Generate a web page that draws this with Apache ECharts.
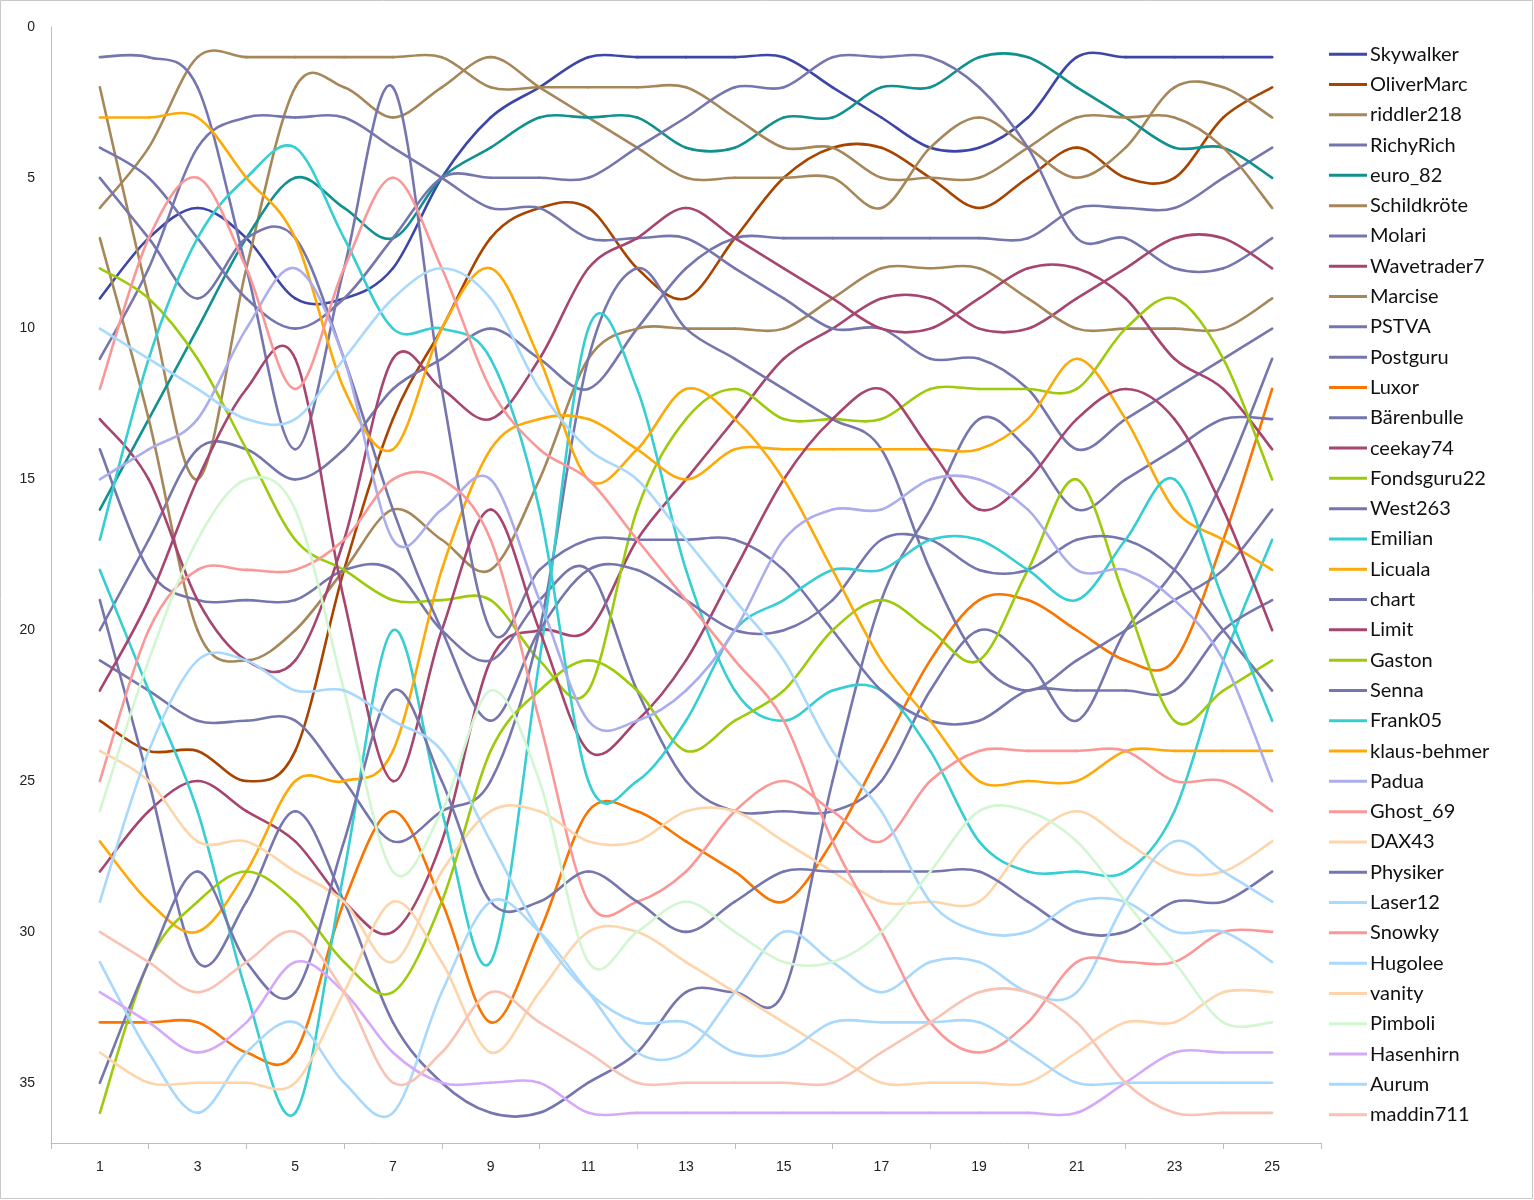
<!DOCTYPE html>
<html>
<head>
<meta charset="utf-8">
<script src="https://cdn.jsdelivr.net/npm/echarts@6/dist/echarts.min.js"></script>
<style>
html,body{margin:0;padding:0;background:#fff;}
#chart{width:1534px;height:1200px;}
</style>
</head>
<body>
<div id="chart"></div>
<script>
// x axis categories (0 and 26 are empty margins of the axis)
const xCategories = ['0','1','2','3','4','5','6','7','8','9','10','11','12','13','14','15','16','17','18','19','20','21','22','23','24','25','26'];
const yTickLabels = [0,5,10,15,20,25,30,35];

const names = ['Skywalker','OliverMarc','riddler218','RichyRich','euro_82','Schildkröte','Molari','Wavetrader7','Marcise','PSTVA','Postguru','Luxor','Bärenbulle','ceekay74','Fondsguru22','West263','Emilian','Licuala','chart','Limit','Gaston','Senna','Frank05','klaus-behmer','Padua','Ghost_69','DAX43','Physiker','Laser12','Snowky','Hugolee','vanity','Pimboli','Hasenhirn','Aurum','maddin711'];

const Skywalker    = [9,7,6,7,9,9,8,5,3,2,1,1,1,1,1,2,3,4,4,3,1,1,1,1,1];
const OliverMarc   = [23,24,24,25,24,18,13,10,7,6,6,8,9,7,5,4,4,5,6,5,4,5,5,3,2];
const riddler218   = [2,9,15,8,2,2,3,2,1,2,3,4,5,5,5,5,6,4,3,4,5,4,2,2,3];
const RichyRich    = [20,17,14,14,15,14,12,11,10,11,12,10,8,7,7,7,7,7,7,7,6,6,6,5,4];
const euro_82      = [16,13,10,7,5,6,7,5,4,3,3,3,4,4,3,3,2,2,1,1,2,3,4,4,5];
const Schildkroete = [6,4,1,1,1,1,1,1,2,2,2,2,2,3,4,4,5,5,5,4,3,3,3,4,6];
const Molari       = [4,5,7,9,10,9,7,5,5,5,5,4,3,2,2,1,1,1,2,4,7,7,8,8,7];
const Wavetrader7  = [28,26,25,26,27,29,30,27,21,20,20,17,15,13,11,10,9,9,10,10,9,8,7,7,8];
const Marcise      = [7,13,20,21,20,18,16,17,18,15,11,10,10,10,10,9,8,8,8,9,10,10,10,10,9];
const PSTVA        = [11,8,4,3,3,3,4,5,6,6,7,7,7,8,9,10,10,11,11,12,14,13,12,11,10];
const Postguru     = [14,18,19,19,19,18,18,20,21,19,18,22,25,26,26,26,25,22,20,21,23,20,18,15,11];
const Luxor        = [33,33,33,34,34,29,26,29,33,30,26,26,27,28,29,27,24,21,19,19,20,21,21,17,12];
const Baerenbulle  = [19,25,31,29,26,29,33,35,36,36,35,34,32,32,32,25,19,16,13,14,16,15,14,13,13];
const ceekay74     = [13,15,19,21,21,17,11,12,13,11,8,7,6,7,8,9,10,10,9,8,8,9,11,12,14];
const Fondsguru22  = [8,9,11,14,17,18,19,19,19,21,22,16,13,12,13,13,13,12,12,12,12,10,9,11,15];
const West263      = [21,22,23,23,23,25,27,26,25,20,11,8,10,11,12,13,14,18,21,22,21,20,19,18,16];
const Emilian      = [18,22,26,32,36,28,20,26,31,21,10,12,18,22,23,22,22,24,27,28,28,28,26,21,17];
const Licuala      = [27,29,30,28,25,25,24,18,14,13,13,14,15,14,14,14,14,14,14,13,11,13,16,17,18];
const chart_       = [1,1,2,8,14,8,2,12,20,18,17,17,17,17,18,20,22,23,23,22,22,22,22,20,19];
const Limit        = [22,19,15,12,11,19,25,20,16,20,24,23,21,18,15,13,12,14,16,15,13,12,13,16,20];
const Gaston       = [36,31,29,28,29,31,32,29,24,22,21,22,24,23,22,20,19,20,21,18,15,19,23,22,21];
const Senna        = [5,7,9,7,7,11,16,20,23,20,18,18,19,20,20,19,17,17,18,18,17,17,18,20,22];
const Frank05      = [17,11,7,5,4,7,10,10,11,16,25,25,23,20,19,18,18,17,17,18,19,17,15,19,23];
const klausBehmer  = [3,3,3,5,7,12,14,10,8,11,15,14,12,13,15,18,21,23,25,25,25,24,24,24,24];
const Padua        = [15,14,13,10,8,11,17,16,15,19,23,23,22,20,17,16,16,15,15,16,18,18,19,21,25];
const Ghost_69     = [25,20,18,18,18,17,15,15,17,23,29,29,28,26,25,26,27,25,24,24,24,24,25,25,26];
const DAX43        = [24,25,27,27,28,29,31,28,26,26,27,27,26,26,27,28,29,29,29,27,26,27,28,28,27];
const Physiker     = [35,31,28,31,32,27,22,25,29,29,28,29,30,29,28,28,28,28,28,29,30,30,29,29,28];
const Laser12      = [31,34,36,34,33,35,36,32,29,30,32,34,34,32,30,31,32,31,31,32,32,29,27,28,29];
const Snowky       = [12,7,5,8,12,8,5,8,12,14,15,17,19,21,23,27,30,33,34,33,31,31,31,30,30];
const Hugolee      = [10,11,12,13,13,11,9,8,9,12,14,15,17,19,21,24,26,29,30,30,29,29,30,30,31];
const vanity       = [34,35,35,35,35,32,29,31,34,32,30,30,31,32,33,34,35,35,35,35,34,33,33,32,32];
const Pimboli      = [26,21,17,15,16,22,28,26,22,25,31,30,29,30,31,31,30,28,26,26,27,29,31,33,33];
const Hasenhirn    = [32,33,34,33,31,32,34,35,35,35,36,36,36,36,36,36,36,36,36,36,36,35,34,34,34];
const Aurum        = [29,24,21,21,22,22,23,24,27,30,32,33,33,34,34,33,33,33,33,34,35,35,35,35,35];
const maddin711    = [30,31,32,31,30,32,35,34,32,33,34,35,35,35,35,35,34,33,32,32,33,35,36,36,36];

const seriesValues = [Skywalker,OliverMarc,riddler218,RichyRich,euro_82,Schildkroete,Molari,Wavetrader7,Marcise,PSTVA,Postguru,Luxor,Baerenbulle,ceekay74,Fondsguru22,West263,Emilian,Licuala,chart_,Limit,Gaston,Senna,Frank05,klausBehmer,Padua,Ghost_69,DAX43,Physiker,Laser12,Snowky,Hugolee,vanity,Pimboli,Hasenhirn,Aurum,maddin711];

const C = {
  darkblue:'#3D46A8', brown:'#A94400', tan:'#A6875A', grey:'#7576AE', teal:'#10918F',
  magenta:'#A6456F', orange:'#F97400', ygreen:'#9DCB0C', cyan:'#35CED2', amber:'#FDAA08',
  lavender:'#ABADEC', pink:'#FA9898', peach:'#FED5AA', lightblue:'#A9D8FD',
  lightgreen:'#D2F7D0', lilac:'#D4A9F9', salmon:'#F8C3B2'
};
const colors = [C.darkblue,C.brown,C.tan,C.grey,C.teal,C.tan,C.grey,C.magenta,C.tan,C.grey,C.grey,C.orange,C.grey,C.magenta,C.ygreen,C.grey,C.cyan,C.amber,C.grey,C.magenta,C.ygreen,C.grey,C.cyan,C.amber,C.lavender,C.pink,C.peach,C.grey,C.lightblue,C.pink,C.lightblue,C.peach,C.lightgreen,C.lilac,C.lightblue,C.salmon];

// Excel-like smoothed line: each data item draws the cubic Bezier segment to the next point,
// with Catmull-Rom control points computed from the neighbouring points (via the axis scales).
const TENSION = 1 / 6;
function makeRender(color) {
  return function (params, api) {
    const i = params.dataIndexInside;
    const n = params.dataInsideLength;
    if (i >= n - 1) return null;
    const pt = (k) => {
      const kk = Math.max(0, Math.min(n - 1, k));
      return api.coord([api.value(0, kk), api.value(1, kk)]);
    };
    const p0 = pt(i - 1), p1 = pt(i), p2 = pt(i + 1), p3 = pt(i + 2);
    return {
      type: 'bezierCurve',
      shape: {
        x1: p1[0], y1: p1[1], x2: p2[0], y2: p2[1],
        cpx1: p1[0] + (p2[0] - p0[0]) * TENSION, cpy1: p1[1] + (p2[1] - p0[1]) * TENSION,
        cpx2: p2[0] - (p3[0] - p1[0]) * TENSION, cpy2: p2[1] - (p3[1] - p1[1]) * TENSION
      },
      style: { stroke: color, lineWidth: 2.6, fill: null, lineCap: 'round' },
      silent: true
    };
  };
}

const series = names.map((n, k) => ({
  name: n,
  type: 'custom',
  renderItem: makeRender(colors[k]),
  encode: { x: 0, y: 1 },
  data: seriesValues[k].map((v, i) => [i + 1, v]),
  itemStyle: { color: colors[k] },
  clip: false
}));

const ch = echarts.init(document.getElementById('chart'), null, {renderer:'canvas'});
ch.setOption({
  animation: false,
  backgroundColor: '#fff',
  graphic: [{ type:'rect', shape:{x:0.5,y:0.5,width:1532,height:1198}, style:{fill:'none', stroke:'#C8C8C8', lineWidth:1}, silent:true }],
  grid: { left: 51, top: 27, width: 1270, height: 1116, containLabel: false },
  xAxis: {
    type: 'category', boundaryGap: false, data: xCategories,
    axisLine: { onZero: false, lineStyle: { color: '#BDBDBD', width: 1 } },
    axisTick: { show: true, interval: (i) => i % 2 === 0, length: 6, lineStyle: { color: '#BDBDBD' } },
    axisLabel: { interval: (i) => i % 2 === 1, margin: 17, color: '#222', fontSize: 14, fontFamily: 'Liberation Sans' },
    splitLine: { show: false }
  },
  yAxis: {
    type: 'value', inverse: true, min: 0, max: 37, interval: 5,
    axisLine: { show: true, onZero: false, lineStyle: { color: '#BDBDBD', width: 1 } },
    axisTick: { show: false },
    axisLabel: { margin: 16, color: '#222', fontSize: 14, fontFamily: 'Liberation Sans',
      formatter: (v) => yTickLabels.includes(v) ? String(v) : '' },
    splitLine: { show: false }
  },
  legend: {
    orient: 'vertical', left: 1324, top: 38,
    icon: 'rect', itemWidth: 38, itemHeight: 3, itemGap: 8,
    textStyle: { fontSize: 20, fontFamily: 'Lato', color: '#111', lineHeight: 22.3, padding: [0,0,0,-2] },
    data: names
  },
  series: series
});
</script>
</body>
</html>
